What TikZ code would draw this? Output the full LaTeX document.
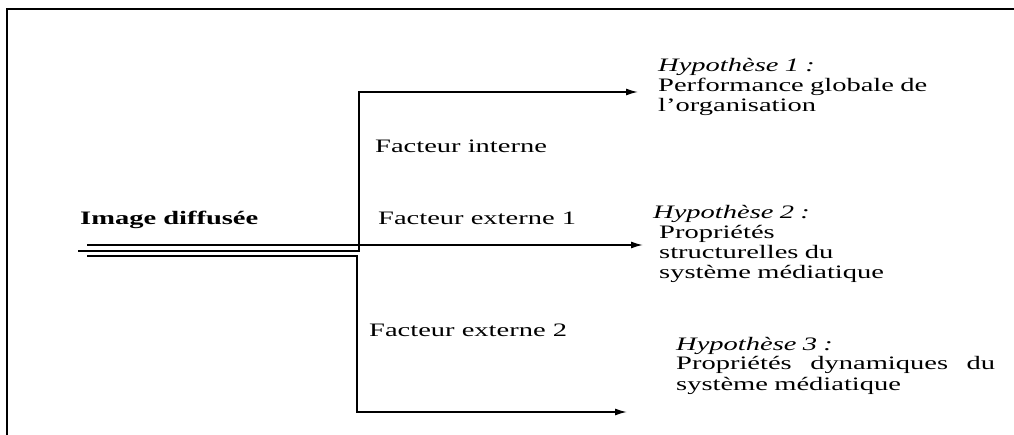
\documentclass[tikz,border=0pt]{standalone}
\usepackage{fontspec}
\setmainfont{Liberation Serif}[FakeStretch=1.5]
\usetikzlibrary{arrows.meta}

\begin{document}
\begin{tikzpicture}[x=1pt, y=-1pt, font=\fontsize{19}{20}\selectfont,
        flow/.style={draw, line width=1.5pt, -{Latex[length=12pt, width=7pt]}}]
            \tikzstyle{factor}=[anchor=base west, inner sep=0pt]
            \tikzstyle{hypo}=[anchor=base west, inner sep=0pt, text width=340pt, align=left]
            \tikzstyle{rail}=[draw, line width=1.5pt]
            \useasboundingbox (0,0) rectangle (1014,435);
            % Frame
            \draw[line width=2pt] (7,435) -- (7,9) -- (1014,9);
            % Source
            \node[factor, font=\fontsize{19}{20}\selectfont\bfseries] (img) at (80,225) {Image diffusée};
            \coordinate (srcA) at (87,245);
            \coordinate (srcB) at (78,251);
            \coordinate (srcC) at (87,256);
            \coordinate (kneeB) at (359,251);
            \coordinate (kneeC) at (357,256);
            % Factors
            \node[factor] (intern) at (375,153) {Facteur interne};
            \node[factor] (extern1) at (378,225) {Facteur externe 1};
            \node[factor] (extern2) at (369,337) {Facteur externe 2};
            % Hypotheses
            \node[hypo] (hyp1) at (658,72) {\textit{Hypothèse 1 :}\\Performance globale de\\l’organisation};
            \node[hypo] (hyp2) at (653,219) {\textit{Hypothèse 2 :}\\\hspace*{6pt}Propriétés\\\hspace*{6pt}structurelles du\\\hspace*{6pt}système médiatique};
            \node[hypo, text width=319pt] (hyp3) at (676,350) {\textit{Hypothèse 3 :}\\Propriétés\hfill dynamiques\hfill du\\système médiatique};
            \coordinate (endA) at (643,245);
            \coordinate (endB) at (638,92);
            \coordinate (endC) at (627,412);
            % Arrows
            \draw[flow] (srcA) -- (endA);
            \draw[flow] (srcB) -- (kneeB) |- (endB);
            \draw[flow] (srcC) -- (kneeC) |- (endC);
        \end{tikzpicture}
\end{document}
